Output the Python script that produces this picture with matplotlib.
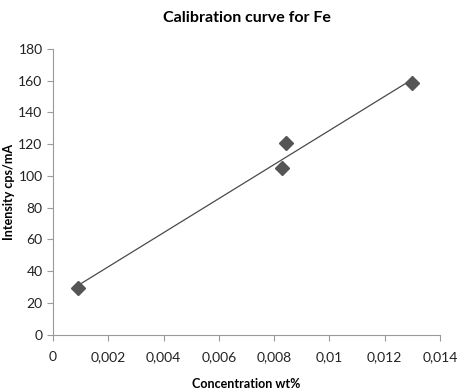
import numpy as np
import matplotlib
matplotlib.use("Agg")
from matplotlib import pyplot as plt

# data
conc = [0.00089, 0.0083, 0.00842, 0.0130]
intensity = [29.7, 105.0, 120.5, 158.8]

xticks = [0, 0.002, 0.004, 0.006, 0.008, 0.01, 0.012, 0.014]
xticklabels = ['0', '0,002', '0,004', '0,006', '0,008', '0,01', '0,012', '0,014']
yticks = [0, 20, 40, 60, 80, 100, 120, 140, 160, 180]

plt.rcParams['font.family'] = ['Lato', 'DejaVu Sans']

fig = plt.figure(figsize=(4.59, 3.91), dpi=100)
ax = fig.add_axes([0.1155, 0.1439, 0.9586 - 0.1155, 0.8747 - 0.1439])

# linear trendline over the data range
a, b = np.polyfit(conc, intensity, 1)
xl = np.array([min(conc), max(conc)])
ax.plot(xl, a * xl + b, color='#4a4a4a', lw=0.9, zorder=2)
ax.plot(conc, intensity, 'D', color='#555555', markersize=7.5, zorder=3)

ax.set_xlim(0, 0.014)
ax.set_ylim(0, 180)
ax.set_xticks(xticks)
ax.set_xticklabels(xticklabels)
ax.set_yticks(yticks)

for s in ['top', 'right']:
  ax.spines[s].set_visible(False)
for s in ['left', 'bottom']:
  ax.spines[s].set_color('#9a9a9a')
  ax.spines[s].set_linewidth(0.8)
ax.tick_params(direction='out', length=4, width=0.8, color='#9a9a9a',
               labelsize=10, labelcolor='#222222')
ax.tick_params(axis='x', pad=8)

ax.set_title('Calibration curve for Fe', fontsize=11.5, fontweight='bold', y=1.065)
ax.set_xlabel('Concentration wt%', fontsize=9, fontweight='bold')
ax.xaxis.set_label_coords(0.5, -0.15)
ax.set_ylabel('Intensity cps/mA', fontsize=9, fontweight='bold')
ax.yaxis.set_label_coords(-0.097, 0.5)

fig.savefig('out.png', dpi=100)
